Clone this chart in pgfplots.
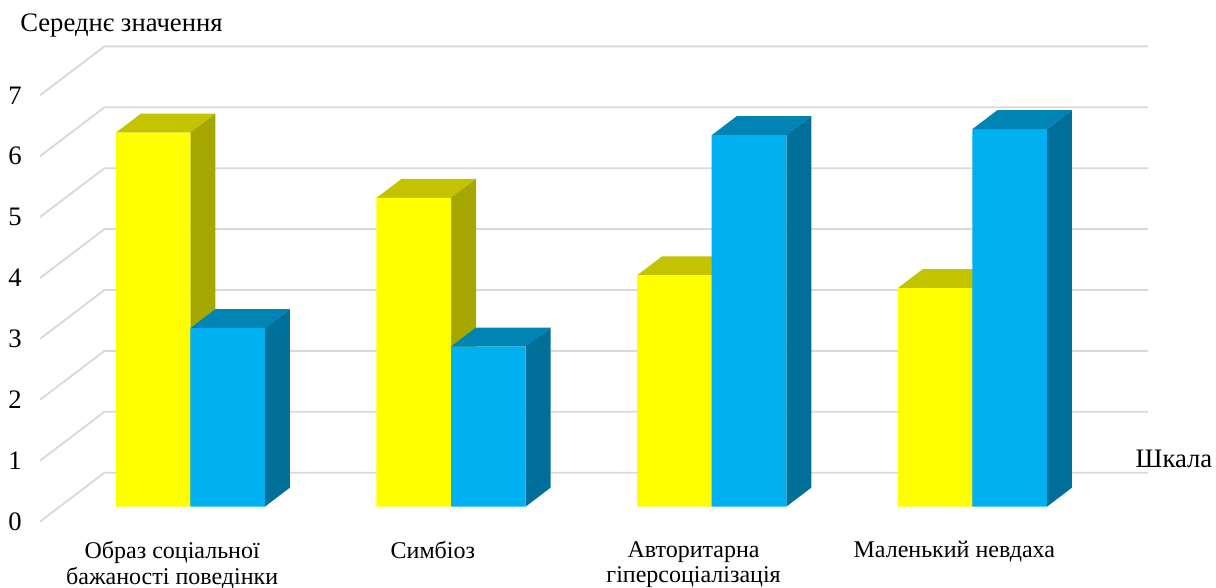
\documentclass[border=0pt]{standalone}
\usepackage{pgfplots}
\usepackage{pgfplotstable}
\usepackage{fontspec}
\setmainfont{Liberation Serif}
\pgfplotsset{compat=1.18}

\definecolor{yfront}{RGB}{255,255,0}
\definecolor{ytop}{RGB}{195,195,0}
\definecolor{yside}{RGB}{166,166,0}
\definecolor{bfront}{RGB}{0,176,240}
\definecolor{btop}{RGB}{0,132,180}
\definecolor{bside}{RGB}{0,112,154}
\definecolor{gridgrey}{RGB}{217,217,217}

% Mean score per scale
\pgfplotstableread{
x yellow blue
0 6.14 2.93
1 5.07 2.63
2 3.80 6.10
3 3.59 6.20
}\meanscores

\newcommand{\chartfont}{\fontsize{20}{24}\selectfont}
\newcommand{\catfont}{\fontsize{18}{19}\selectfont}

% Bar width and oblique depth, in axis units
\def\barw{0.2859}
\def\depx{0.0959}
\def\depy{0.312}

% Top and side faces of one bar: row, column, left offset, top colour, side colour
\newcommand{\barfaces}[5]{%
  \pgfplotstablegetelem{#1}{#2}\of\meanscores
  \pgfmathsetmacro\topv{\pgfplotsretval}%
  \pgfmathsetmacro\xl{#1+#3}%
  \pgfmathsetmacro\xr{\xl+\barw}%
  \pgfmathsetmacro\xlb{\xl+\depx}%
  \pgfmathsetmacro\xrb{\xr+\depx}%
  \pgfmathsetmacro\topb{\topv+\depy}%
  \addplot[draw=none,fill=#4,forget plot] coordinates {(\xl,\topv) (\xlb,\topb) (\xrb,\topb) (\xr,\topv)} --cycle;
  \addplot[draw=none,fill=#5,forget plot] coordinates {(\xr,0) (\xrb,\depy) (\xrb,\topb) (\xr,\topv)} --cycle;
}

% One floor-to-wall gridline: value at the front edge, value on the back wall
\newcommand{\gridrun}[2]{%
  \addplot[gridgrey,line width=1.4pt,forget plot] coordinates {(-0.5766,#1) (-0.3292,#2) (3.6735,#2)};
}

\begin{document}
\begin{tikzpicture}[x=1pt,y=1pt]
\useasboundingbox (0,0) rectangle (912,441);
\begin{axis}[
  at={(30pt,49.8pt)},anchor=south west,
  scale only axis,width=831pt,height=356.5pt,
  xmin=-0.5766,xmax=3.6735,ymin=-0.245,ymax=7.56,
  clip=false,
  axis line style={draw=none},
  tick style={draw=none},
  xtick={0,1,2,3},
  xticklabels={{Образ соціальної\\бажаності поведінки},{Симбіоз},{Авторитарна\\гіперсоціалізація},{Маленький невдаха}},
  xticklabel style={align=center,anchor=north,xshift=-13.6pt,yshift=-11.4pt,font=\catfont},
  ytick={-0.245,0.755,1.755,2.755,3.755,4.755,5.755,6.755},
  yticklabels={0,1,2,3,4,5,6,7},
  yticklabel style={anchor=center,xshift=-18.75pt,font=\chartfont},
]
\gridrun{-0.245}{0.558}
\gridrun{0.755}{1.558}
\gridrun{1.755}{2.558}
\gridrun{2.755}{3.558}
\gridrun{3.755}{4.558}
\gridrun{4.755}{5.558}
\gridrun{5.755}{6.558}
\gridrun{6.755}{7.558}

\barfaces{0}{yellow}{-0.2859}{ytop}{yside}
\barfaces{1}{yellow}{-0.2859}{ytop}{yside}
\barfaces{2}{yellow}{-0.2859}{ytop}{yside}
\barfaces{3}{yellow}{-0.2859}{ytop}{yside}
\addplot[ybar,bar width=55.9pt,bar shift=-27.95pt,fill=yfront,draw=none] table[x=x,y=yellow] {\meanscores};

\barfaces{0}{blue}{0}{btop}{bside}
\barfaces{1}{blue}{0}{btop}{bside}
\barfaces{2}{blue}{0}{btop}{bside}
\barfaces{3}{blue}{0}{btop}{bside}
\addplot[ybar,bar width=55.9pt,bar shift=27.95pt,fill=bfront,draw=none] table[x=x,y=blue] {\meanscores};
\end{axis}
\node[anchor=west,inner sep=0pt,font=\chartfont] at (15,421.5) {Середнє значення};
\node[anchor=west,inner sep=0pt,font=\chartfont] at (851.5,96.5) {Шкала};
\end{tikzpicture}
\end{document}
